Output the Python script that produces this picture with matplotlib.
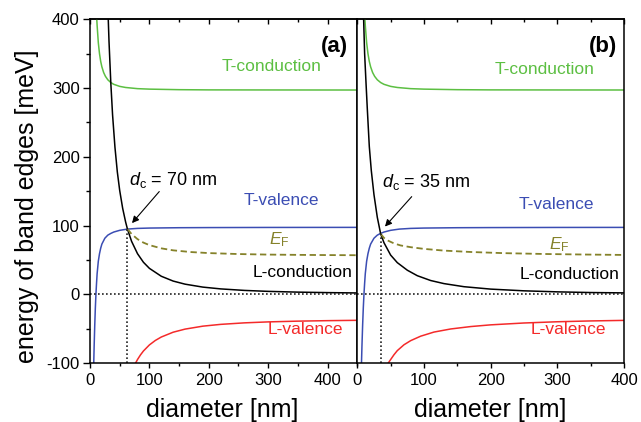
import matplotlib
matplotlib.use('Agg')
import matplotlib.pyplot as plt
from matplotlib.ticker import MultipleLocator

plt.rcParams['font.family'] = ['Liberation Sans', 'DejaVu Sans']
plt.rcParams['mathtext.fontset'] = 'custom'
plt.rcParams['mathtext.it'] = 'Liberation Sans:italic'
plt.rcParams['mathtext.rm'] = 'Liberation Sans'
plt.rcParams['axes.unicode_minus'] = False

# T-conduction band edge (same in both panels)
tc_d = [11.4, 12, 14, 16, 18, 20, 23, 26, 30, 35, 40, 50, 60, 80, 100, 150, 200, 300, 450]
tc_E = [400, 391, 366, 350, 338.7, 330.8, 322.5, 317, 312, 308, 305.4, 302.4, 300.8,
        299.1, 298.4, 297.6, 297.3, 297.2, 297.1]

# T-valence band edge (same in both panels)
tv_d = [6.3, 7, 8, 9, 10, 11, 12, 14, 16, 18, 20, 25, 30, 35, 40, 50, 63, 80, 100,
        150, 200, 300, 450]
tv_E = [-100, -75, -45, -20, 0, 16, 30, 48, 59, 67, 73, 81.5, 86, 88.5, 90.5, 93,
        94.8, 95.8, 96.3, 96.8, 97, 97.2, 97.3]

# panel (a)
lc_a_d = [30, 32, 35, 38, 42, 46, 50, 55, 60, 63, 70, 80, 90, 100, 120, 140, 160,
          190, 220, 260, 300, 350, 400, 450]
lc_a_E = [419, 368, 308, 261, 214, 178, 151, 125, 105, 95, 77, 59, 46.5, 37.7, 26.2,
          19.2, 14.7, 10.4, 7.8, 5.6, 4.2, 3.1, 2.4, 1.9]
lv_a_d = [76, 80, 85, 90, 100, 110, 120, 140, 160, 190, 220, 260, 300, 350, 400, 450]
lv_a_E = [-101.3, -94.9, -88.2, -82.5, -73.7, -67.2, -62.2, -55.2, -50.7, -46.4,
          -43.8, -41.6, -40.2, -39.1, -38.4, -37.9]
ef_a_d = [63, 70, 80, 90, 100, 120, 140, 170, 200, 250, 300, 350, 400, 450]
ef_a_E = [95, 87.6, 80.2, 75.1, 71.5, 66.8, 63.9, 61.4, 59.9, 58.5, 57.7, 57.3, 57,
          56.8]
cross_a = (63, 95)

# panel (b)
lc_b_d = [9.5, 11, 13, 15, 18, 21, 25, 30, 35, 40, 50, 60, 75, 90, 110, 130, 160,
          200, 250, 300, 350, 400]
lc_b_E = [400, 350, 309, 270, 215, 180, 145, 112, 88, 75, 57, 46, 35, 27, 20, 15.5,
          11, 7.5, 5, 3.5, 2.5, 2]
lv_b_d = [46.5, 50, 55, 60, 70, 80, 95, 115, 140, 170, 200, 250, 300, 350, 400]
lv_b_E = [-100, -95, -88, -82, -73.5, -67.5, -61, -55, -50.5, -47, -44.5, -41.8,
          -40, -38.8, -38]
ef_b_d = [35, 40, 45, 55, 65, 80, 100, 130, 170, 220, 280, 340, 400]
ef_b_E = [88, 82, 78.5, 74, 71, 68.5, 66, 63.5, 61.5, 59.8, 58.6, 57.8, 57.2]
cross_b = (35, 88)

green = '#5cbf42'
blue = '#3b4db3'
red = '#f42a2a'
olive = '#85822a'

fig = plt.figure(figsize=(6.41, 4.22), dpi=100)
ax_a = fig.add_axes([0.1404, 0.1398, 0.4170, 0.8145])
ax_b = fig.add_axes([0.5574, 0.1398, 0.4161, 0.8145])

panels = [
    (ax_a, 450, lc_a_d, lc_a_E, lv_a_d, lv_a_E, ef_a_d, ef_a_E, cross_a,
     '70', (116.6, 149.4), (70.7, 103.5), (65, 159), '(a)', (410.8, 360),
     [(305, 331), (323, 136), (319, 79.5), (357.8, 31), (362, -51.6)]),
    (ax_b, 400, lc_b_d, lc_b_E, lv_b_d, lv_b_E, ef_b_d, ef_b_E, cross_b,
     '35', (81.6, 142), (41.5, 98.5), (36.6, 156), '(b)', (369, 360),
     [(281, 326.3), (299, 130), (302.5, 72), (317.8, 28.3), (316.5, -51.6)]),
]

for (ax, xmax, lcd, lcE, lvd, lvE, efd, efE, cross, dc, arr_from, arr_to,
     txt_pos, tag, tag_pos, lab_pos) in panels:
    ax.plot(tc_d, tc_E, color=green, lw=1.1)
    ax.plot(tv_d, tv_E, color=blue, lw=1.1)
    ax.plot(lcd, lcE, color='black', lw=1.1)
    ax.plot(lvd, lvE, color=red, lw=1.1)
    ax.plot(efd, efE, color=olive, lw=1.3, linestyle=(0, (3.5, 2)))
    # dotted guide lines
    ax.axhline(0, color='#222222', lw=1.2, linestyle=(0, (1, 1.4)))
    ax.plot([cross[0], cross[0]], [-100, cross[1]], color='#222222', lw=1.2,
            linestyle=(0, (1, 1.4)))

    ax.set_xlim(0, xmax)
    ax.set_ylim(-100, 400)
    ax.set_xticks([0, 100, 200, 300, 400])
    ax.xaxis.set_minor_locator(MultipleLocator(50))
    ax.yaxis.set_major_locator(MultipleLocator(100))
    ax.yaxis.set_minor_locator(MultipleLocator(50))
    ax.tick_params(axis='x', which='major', direction='out', length=3.6, width=1.0,
                   labelsize=12, pad=3.5)
    ax.tick_params(axis='x', which='minor', direction='out', length=2.5, width=1.0)
    ax.tick_params(axis='y', which='major', direction='out', length=5, width=1.0,
                   labelsize=12, pad=2.5)
    ax.tick_params(axis='y', which='minor', direction='out', length=3, width=1.0)
    for sp in ax.spines.values():
        sp.set_linewidth(1.1)

    top = ax.secondary_xaxis('top')
    top.set_xticks([0, 100, 200, 300, 400])
    top.xaxis.set_minor_locator(MultipleLocator(50))
    top.tick_params(which='major', direction='in', length=3.5, width=1.0,
                    labeltop=False)
    top.tick_params(which='minor', direction='in', length=2.2, width=1.0)
    top.spines['top'].set_linewidth(1.1)

    ax.annotate('', xy=arr_to, xytext=arr_from,
                arrowprops=dict(arrowstyle='-|>', color='black', lw=0.8,
                                mutation_scale=10, shrinkA=0, shrinkB=0))
    ax.text(txt_pos[0], txt_pos[1], r'$d_{\mathrm{c}}$ = ' + dc + ' nm',
            fontsize=13, ha='left', va='baseline')
    ax.text(tag_pos[0], tag_pos[1], tag, fontsize=16, fontweight='bold',
            ha='center', va='center')

    names = ['T-conduction', 'T-valence', r'$E_{\mathrm{F}}$', 'L-conduction',
             'L-valence']
    cols = [green, blue, olive, 'black', red]
    for name, col, pos in zip(names, cols, lab_pos):
        ax.text(pos[0], pos[1], name, color=col, fontsize=12.5, ha='center',
                va='center')

ax_b.tick_params(axis='y', which='both', left=False, labelleft=False)

fig.text(0.042, 0.512, 'energy of band edges [meV]', rotation=90, fontsize=18,
         ha='center', va='center')
fig.text(0.3471, 0.013, 'diameter [nm]', fontsize=18, ha='center', va='baseline')
fig.text(0.7644, 0.013, 'diameter [nm]', fontsize=18, ha='center', va='baseline')

fig.savefig('out.png', dpi=100)
